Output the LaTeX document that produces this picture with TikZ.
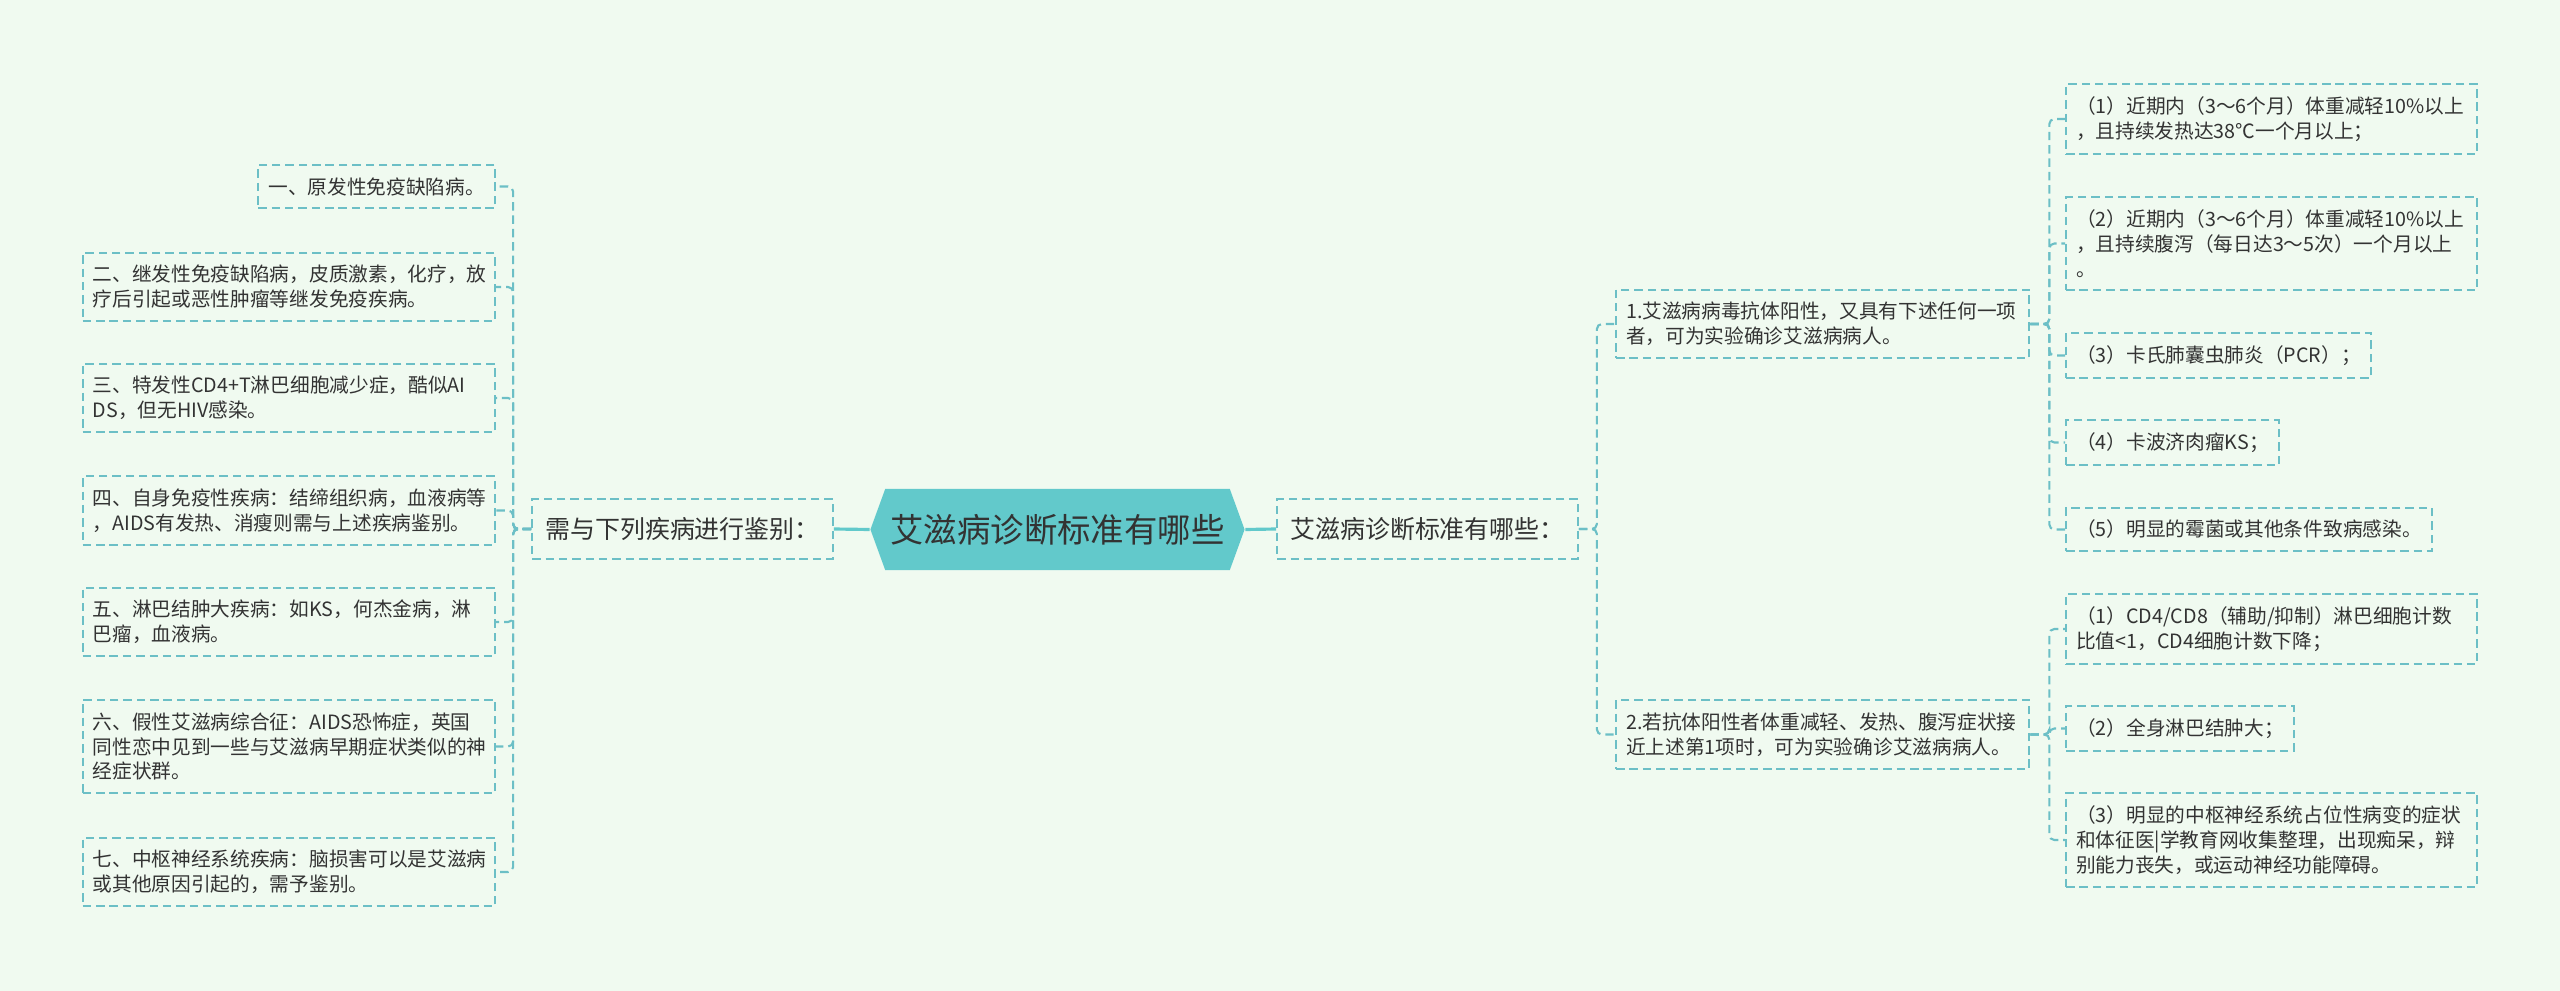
\documentclass[tikz,border=0pt]{standalone}
\usepackage{fontspec}
\newfontfamily\cjk{Noto Sans CJK SC}
\usetikzlibrary{shapes.symbols}
\definecolor{bgmint}{HTML}{F0FAF0}
\definecolor{linecol}{HTML}{6CBFC6}
\definecolor{rootfill}{HTML}{62C9CB}
\definecolor{txt}{HTML}{333333}
\tikzset{
  box/.style={draw=linecol, line width=0.6pt, dash pattern=on 2.4pt off 1.4pt,
    text=txt, align=left, inner xsep=0.1cm, inner ysep=0.125cm,
    font=\cjk\fontsize{5.6}{7.1}\selectfont},
  leafbox/.style={box, text width=3.92cm},
  midbox/.style={box, inner xsep=0.13cm, minimum height=0.6cm,
    font=\cjk\fontsize{7.1}{8.5}\selectfont},
  rootbox/.style={signal, signal to=west and east, signal pointer angle=140,
    fill=rootfill, text=txt, inner xsep=1.5pt, minimum width=3.6cm, minimum height=0.81cm,
    font=\cjk\fontsize{9.5}{11}\selectfont},
  link/.style={draw=linecol, line width=0.6pt, dash pattern=on 2.4pt off 1.4pt,
    rounded corners=0.05cm},
  thicklink/.style={draw=rootfill, line width=0.9pt}
}
\begin{document}
\begin{tikzpicture}[x=0.01cm,y=-0.01cm]
\def\xL{496};
\def\xR{2065};
\fill[bgmint] (0,0) rectangle (2560,991);
\useasboundingbox (0,0) rectangle (2560,991);
\node[rootbox] (root) at (1057.5,529.5) {艾滋病诊断标准有哪些};
\node[midbox] (diff) at (682.5,529) {需与下列疾病进行鉴别：};
\node[midbox] (crit) at (1427.5,529) {艾滋病诊断标准有哪些：};
\draw[thicklink] (diff.east) -- (root.west);
\draw[thicklink] (root.east) -- (crit.west);
\node[box,anchor=east] (d1) at (\xL,186.5) {一、原发性免疫缺陷病。};
\node[leafbox,anchor=east] (d2) at (\xL,287) {二、继发性免疫缺陷病，皮质激素，化疗，放\\疗后引起或恶性肿瘤等继发免疫疾病。};
\node[leafbox,anchor=east] (d3) at (\xL,398) {三、特发性CD4+T淋巴细胞减少症，酷似AI\\DS，但无HIV感染。};
\node[leafbox,anchor=east] (d4) at (\xL,510.5) {四、自身免疫性疾病：结缔组织病，血液病等\\，AIDS有发热、消瘦则需与上述疾病鉴别。};
\node[leafbox,anchor=east] (d5) at (\xL,622) {五、淋巴结肿大疾病：如KS，何杰金病，淋\\巴瘤，血液病。};
\node[leafbox,anchor=east] (d6) at (\xL,746.5) {六、假性艾滋病综合征：AIDS恐怖症，英国\\同性恋中见到一些与艾滋病早期症状类似的神\\经症状群。};
\node[leafbox,anchor=east] (d7) at (\xL,872) {七、中枢神经系统疾病：脑损害可以是艾滋病\\或其他原因引起的，需予鉴别。};
\foreach \n in {d1,d2,d3,d4,d5,d6,d7}
  \draw[link] (diff.west) -- ++(-18,0) |- (\n.east);
\node[leafbox,anchor=west,text width=3.93cm] (c1) at (1615,324) {1.艾滋病病毒抗体阳性，又具有下述任何一项\\者，可为实验确诊艾滋病病人。};
\node[leafbox,anchor=west,text width=3.93cm] (c2) at (1615,734.5) {2.若抗体阳性者体重减轻、发热、腹泻症状接\\近上述第1项时，可为实验确诊艾滋病病人。};
\foreach \n in {c1,c2}
  \draw[link] (crit.east) -- ++(18,0) |- (\n.west);
\node[leafbox,anchor=west,text width=3.91cm] (c1a) at (\xR,119) {（1）近期内（3～6个月）体重减轻10\%以上\\，且持续发热达38℃一个月以上；};
\node[leafbox,anchor=west,text width=3.91cm] (c1b) at (\xR,243.5) {（2）近期内（3～6个月）体重减轻10\%以上\\，且持续腹泻（每日达3～5次）一个月以上\\。};
\node[box,anchor=west] (c1c) at (\xR,355.5) {（3）卡氏肺囊虫肺炎（PCR）；};
\node[box,anchor=west] (c1d) at (\xR,442.5) {（4）卡波济肉瘤KS；};
\node[box,anchor=west] (c1e) at (\xR,529.5) {（5）明显的霉菌或其他条件致病感染。};
\foreach \n in {c1a,c1b,c1c,c1d,c1e}
  \draw[link] (c1.east) -- ++(19,0) |- (\n.west);
\node[leafbox,anchor=west,text width=3.91cm] (c2a) at (\xR,629) {（1）CD4/CD8（辅助/抑制）淋巴细胞计数\\比值<1，CD4细胞计数下降；};
\node[box,anchor=west] (c2b) at (\xR,728.5) {（2）全身淋巴结肿大；};
\node[leafbox,anchor=west,text width=3.91cm] (c2c) at (\xR,840) {（3）明显的中枢神经系统占位性病变的症状\\和体征医|学教育网收集整理，出现痴呆，辩\\别能力丧失，或运动神经功能障碍。};
\foreach \n in {c2a,c2b,c2c}
  \draw[link] (c2.east) -- ++(19,0) |- (\n.west);
\end{tikzpicture}
\end{document}
